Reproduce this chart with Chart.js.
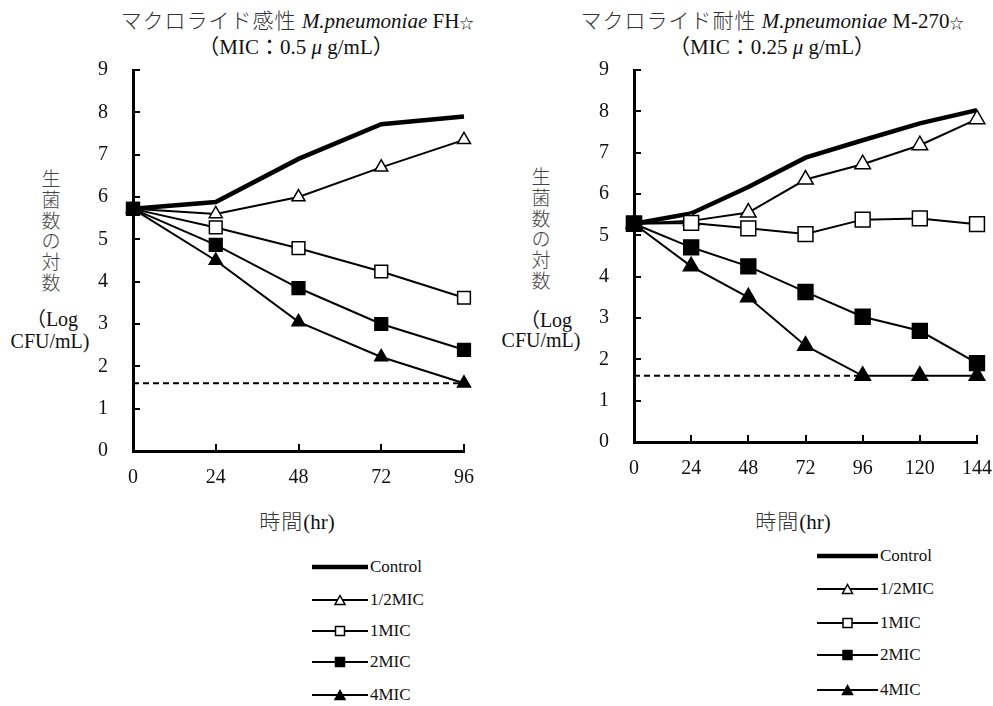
<!DOCTYPE html>
<html>
<head>
<meta charset="utf-8">
<script src="https://cdn.jsdelivr.net/npm/chart.js@4.4.1/dist/chart.umd.min.js"></script>
<style>
    body { margin: 0; background: #fff; width: 993px; height: 706px; overflow: hidden; position: relative;
        font-family: "Liberation Serif", "Noto Sans CJK JP", serif; color: #111; }
    .plot { position: absolute; top: 0; height: 500px; }
    .t { position: absolute; white-space: nowrap; transform: translate(-50%, -50%); font-size: 21px; line-height: 1; }
    .t i { font-style: italic; }
    .jp { font-weight: 300; color: #333; letter-spacing: 1px; }
    .star { font-size: 14px; }
    .ylab { position: absolute; font-size: 19px; line-height: 20.8px; text-align: center; transform: translateX(-50%); color: #444; font-weight: 300; }
    .leg { position: absolute; font-size: 17px; }
    .leg div { position: absolute; display: flex; align-items: center; white-space: nowrap; transform: translateY(-50%); }
    .leg svg { display: block; margin-right: 2px; }
</style>
</head>
<body>
<div class="t" style="left:297px;top:21px"><span class="jp">マクロライド感性</span> <i>M.pneumoniae</i> FH<span class="star">☆</span></div>
<div class="t" style="left:296px;top:47px">（MIC：0.5 <i>μ</i> g/mL）</div>
<div class="t" style="left:772px;top:21px"><span class="jp">マクロライド耐性</span> <i>M.pneumoniae</i> M-270<span class="star">☆</span></div>
<div class="t" style="left:772px;top:47px">（MIC：0.25 <i>μ</i> g/mL）</div>

<div class="ylab" style="left:51px;top:170px">生<br>菌<br>数<br>の<br>対<br>数</div>
<div class="t" style="left:52px;top:319px;font-size:20px">（Log</div>
<div class="t" style="left:50px;top:341px;font-size:20px">CFU/mL)</div>
<div class="ylab" style="left:541px;top:168px">生<br>菌<br>数<br>の<br>対<br>数</div>
<div class="t" style="left:546px;top:320px;font-size:20px">（Log</div>
<div class="t" style="left:541px;top:340px;font-size:20px">CFU/mL)</div>

<div class="t" style="left:297px;top:522px"><span class="jp">時間</span>(hr)</div>
<div class="t" style="left:793px;top:522px"><span class="jp">時間</span>(hr)</div>

<div class="plot" style="left:0;width:490px"><canvas id="chartLeft"></canvas></div>
<div class="plot" style="left:500px;width:493px"><canvas id="chartRight"></canvas></div>

<div class="leg" id="legLeft" style="left:312px;top:0"></div>
<div class="leg" id="legRight" style="left:817px;top:0"></div>

<script>
// series names (legend order)
const seriesNames = ['Control', '1/2MIC', '1MIC', '2MIC', '4MIC'];

// FH strain (macrolide susceptible)
const leftHours = [0, 24, 48, 72, 96];
const leftControl = [5.72, 5.88, 6.90, 7.72, 7.90];
const leftHalfMic = [5.72, 5.60, 6.00, 6.70, 7.35];
const leftOneMic = [5.72, 5.28, 4.79, 4.24, 3.62];
const leftTwoMic = [5.72, 4.87, 3.85, 3.00, 2.39];
const leftFourMic = [5.72, 4.50, 3.05, 2.22, 1.60];
const leftLimitHours = [0, 96];
const leftLimit = [1.6, 1.6];

// M-270 strain (macrolide resistant)
const rightHours = [0, 24, 48, 72, 96, 120, 144];
const rightControl = [5.28, 5.53, 6.17, 6.88, 7.30, 7.71, 8.03];
const rightHalfMic = [5.28, 5.35, 5.55, 6.35, 6.72, 7.18, 7.81];
const rightOneMic = [5.28, 5.30, 5.17, 5.03, 5.38, 5.41, 5.27];
const rightTwoMic = [5.28, 4.71, 4.25, 3.63, 3.03, 2.69, 1.91];
const rightFourMic = [5.28, 4.25, 3.50, 2.33, 1.60, 1.60, 1.60];
const rightLimitHours = [0, 96];
const rightLimit = [1.6, 1.6];

const yTicks = [0, 1, 2, 3, 4, 5, 6, 7, 8, 9];

const styles = [
    { borderWidth: 4.5, pointRadius: 0, order: 4 },
    { pointStyle: 'triangle', fill: '#fff', order: 3 },
    { pointStyle: 'rect', fill: '#fff', order: 1 },
    { pointStyle: 'rect', fill: '#000', order: 0 },
    { pointStyle: 'triangle', fill: '#000', order: 2 }
];

const toPoints = (xs, ys) => xs.map((x, i) => ({ x: x, y: ys[i] }));

const makeChart = (id, hours, series, limitHours, limit, opt) => {
    var datasets = series.map(function (vals, i) {
        var s = styles[i];
        return {
            label: seriesNames[i],
            data: toPoints(hours, vals),
            borderColor: '#000',
            borderWidth: s.borderWidth || 2,
            pointStyle: s.pointStyle || 'circle',
            pointRadius: s.pointRadius === 0 ? 0 : (s.pointStyle === 'rect' ? opt.rectR : opt.triR),
            pointBackgroundColor: s.fill || '#000',
            pointBorderColor: '#000',
            pointBorderWidth: 1.5,
            tension: 0,
            clip: false,
            order: s.order
        };
    });
    datasets.push({
        label: 'limit',
        data: toPoints(limitHours, limit),
        borderColor: '#000',
        borderWidth: 2,
        borderDash: [6, 4],
        pointRadius: 0,
        clip: false,
        order: 5
    });
    return new Chart(id, {
        type: 'line',
        data: { datasets: datasets },
        options: {
            responsive: true,
            maintainAspectRatio: false,
            animation: false,
            events: [],
            layout: { padding: { top: 70, right: opt.padRight, left: 0, bottom: 0 } },
            plugins: { legend: { display: false }, tooltip: { enabled: false } },
            scales: {
                x: {
                    type: 'linear',
                    min: 0,
                    max: hours[hours.length - 1],
                    afterFit: function (scale) { scale.height = opt.xHeight; },
                    afterBuildTicks: function (scale) { scale.ticks = hours.map(function (h) { return { value: h }; }); },
                    // tall line height pushes the labels down without adding side padding
                    ticks: { color: '#111', padding: 0, maxRotation: 0, font: { family: 'Liberation Serif', size: 20, lineHeight: 3.4 } },
                    grid: { drawOnChartArea: false, color: '#000', lineWidth: 2, tickLength: -7 },
                    border: { color: '#000', width: 3 }
                },
                y: {
                    min: 0,
                    max: 9,
                    afterFit: function (scale) { scale.width = opt.yWidth; },
                    afterBuildTicks: function (scale) { scale.ticks = yTicks.map(function (v) { return { value: v }; }); },
                    ticks: { color: '#111', padding: 32, font: { family: 'Liberation Serif', size: 20 } },
                    grid: { drawOnChartArea: false, color: '#000', lineWidth: 2, tickLength: -7 },
                    border: { color: '#000', width: 3 }
                }
            }
        }
    });
}

const buildLegend = (id, tops, lineLen) => {
    var box = document.getElementById(id);
    seriesNames.forEach(function (name, i) {
        var s = styles[i];
        var mid = lineLen / 2;
        var mark = '';
        if (s.pointStyle === 'triangle') {
            mark = '<polygon points="' + mid + ',2.5 ' + (mid - 5) + ',11.5 ' + (mid + 5) + ',11.5" fill="' + s.fill + '" stroke="#000" stroke-width="1.5"/>';
        } else if (s.pointStyle === 'rect') {
            mark = '<rect x="' + (mid - 4.5) + '" y="2.5" width="9" height="9" fill="' + s.fill + '" stroke="#000" stroke-width="1.5"/>';
        }
        var row = document.createElement('div');
        row.style.top = tops[i] + 'px';
        row.innerHTML = '<svg width="' + lineLen + '" height="14"><line x1="0" y1="7" x2="' + lineLen + '" y2="7" stroke="#000" stroke-width="' + (s.borderWidth || 2) + '"/>' + mark + '</svg>' + name;
        box.appendChild(row);
    });
}

makeChart('chartLeft', leftHours, [leftControl, leftHalfMic, leftOneMic, leftTwoMic, leftFourMic], leftLimitHours, leftLimit,
    { padRight: 26, yWidth: 133, xHeight: 49, rectR: 9, triR: 7.5 });
makeChart('chartRight', rightHours, [rightControl, rightHalfMic, rightOneMic, rightTwoMic, rightFourMic], rightLimitHours, rightLimit,
    { padRight: 16, yWidth: 134, xHeight: 58, rectR: 10.5, triR: 9 });

buildLegend('legLeft', [567, 600, 631, 662, 695], 56);
buildLegend('legRight', [556, 589, 623, 655, 690], 61);
</script>
</body>
</html>
